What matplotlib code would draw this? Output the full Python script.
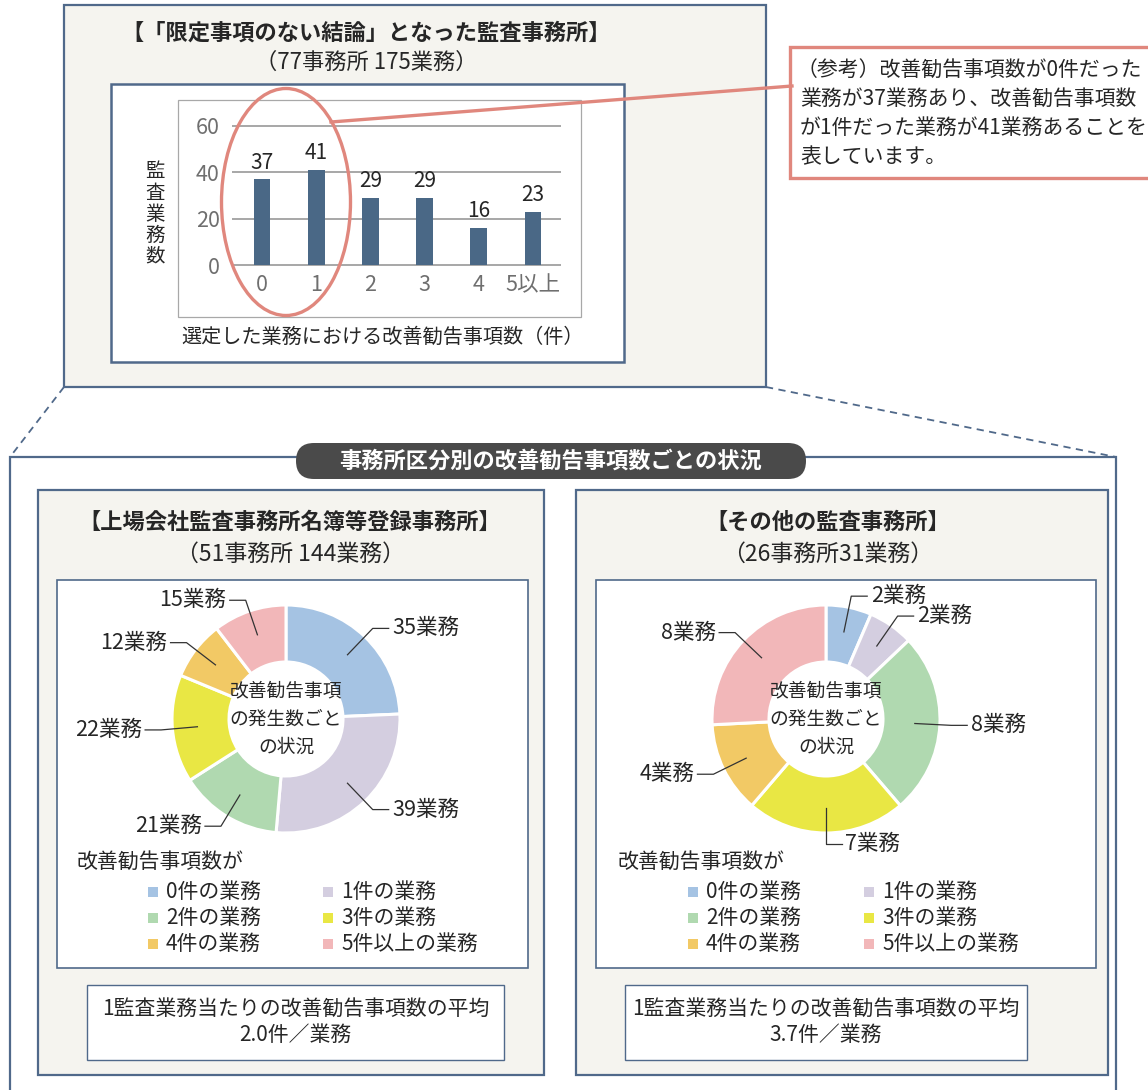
import matplotlib
matplotlib.use('Agg')
import matplotlib.pyplot as plt
from matplotlib.patches import Rectangle, Ellipse, FancyBboxPatch
import numpy as np

plt.rcParams['font.family'] = ['Noto Sans CJK JP', 'DejaVu Sans']

# ---------------- data ----------------
bar_categories = ['0', '1', '2', '3', '4', '5以上']
bar_values = [37, 41, 29, 29, 16, 23]
y_ticks = [0, 20, 40, 60]

listed_values = [35, 39, 21, 22, 12, 15]
other_values = [2, 2, 8, 7, 4, 8]
legend_labels = ['0件の業務', '1件の業務', '2件の業務', '3件の業務', '4件の業務', '5件以上の業務']
slice_colors = ['#A5C3E3', '#D4CEE0', '#B0D9B0', '#E9E744', '#F2C965', '#F2B7B9']
avg_listed = '2.0件／業務'
avg_other = '3.7件／業務'

note_lines = ['（参考）改善勧告事項数が0件だった',
              '業務が37業務あり、改善勧告事項数',
              'が1件だった業務が41業務あることを',
              '表しています。']

BORDER = '#50698A'
PANEL = '#F5F4EF'
TXT = '#262626'
RED = '#E0877D'

W, H = 1148, 1090
fig = plt.figure(figsize=(W / 100, H / 100), dpi=100)
base = fig.add_axes([0, 0, 1, 1])
base.set_xlim(0, W)
base.set_ylim(H, 0)
base.axis('off')


def px_axes(x0, y0, x1, y1):
    return fig.add_axes([x0 / W, 1 - y1 / H, (x1 - x0) / W, (y1 - y0) / H])


def rect(ax, x0, y0, x1, y1, fc, ec, lw, z=1):
    ax.add_patch(Rectangle((x0, y0), x1 - x0, y1 - y0, facecolor=fc, edgecolor=ec, linewidth=lw, zorder=z))


# ---------------- top section ----------------
rect(base, 64, 5, 766, 387, PANEL, BORDER, 1.6)
base.text(366, 33, '【「限定事項のない結論」となった監査事務所】', ha='center', va='center',
          fontsize=16, fontweight='bold', color=TXT)
base.text(366, 62, '（77事務所 175業務）', ha='center', va='center', fontsize=16, color=TXT)
rect(base, 111, 84, 624, 362, 'white', BORDER, 1.8)
rect(base, 178, 100, 581, 317, 'white', '#A8A8A8', 0.9)

# bar chart
pxu = 139 / 60.0
bax = px_axes(232, 126 - pxu, 561, 265 + pxu)
bax.set_facecolor('none')
bax.bar(range(len(bar_values)), bar_values, width=0.31, color='#4A6886', zorder=3)
bax.set_ylim(-1, 61)
bax.set_xlim(-0.553, 5.517)
for s in bax.spines.values():
    s.set_visible(False)
bax.set_yticks(y_ticks)
bax.set_xticks(range(len(bar_categories)))
bax.set_xticklabels(bar_categories)
bax.yaxis.grid(True, color='#A0A0A0', linewidth=1.3)
bax.set_axisbelow(True)
bax.tick_params(axis='y', length=0, labelsize=15.5, labelcolor='#6F6F6F', pad=9)
bax.tick_params(axis='x', length=0, labelsize=15.5, labelcolor='#6F6F6F', pad=5)
for c in bax.containers:
    bax.bar_label(c, padding=4, fontsize=15, color=TXT)

base.text(155, 214, '監\n査\n業\n務\n数', ha='center', va='center', fontsize=14,
          color=TXT, linespacing=1.0)
base.text(383, 337, '選定した業務における改善勧告事項数（件）', ha='center', va='center',
          fontsize=14.5, color=TXT)

# dashed connectors
base.plot([64, 10], [387, 457], color=BORDER, lw=1.3, ls=(0, (4, 3)))
base.plot([766, 1116], [387, 457], color=BORDER, lw=1.3, ls=(0, (4, 3)))

# ---------------- bottom section ----------------
rect(base, 10, 457, 1116, 1100, 'white', BORDER, 1.6)
base.add_patch(FancyBboxPatch((296, 443), 510, 36, boxstyle='round,pad=0,rounding_size=18',
                              facecolor='#4A4A4A', edgecolor='none', zorder=3))
base.text(551, 461, '事務所区分別の改善勧告事項数ごとの状況', ha='center', va='center',
          fontsize=16, fontweight='bold', color='white', zorder=4)


def donut(cx, cy, R, values):
    s = R * 1.6
    ax = px_axes(cx - s, cy - s, cx + s, cy + s)
    ax.pie(values, colors=slice_colors, startangle=90, counterclock=False, radius=1,
           wedgeprops=dict(width=0.5, edgecolor='white', linewidth=2.2))
    ax.set_xlim(-1.6, 1.6)
    ax.set_ylim(-1.6, 1.6)
    ax.axis('off')
    total = float(sum(values))
    cum = 0
    for v in values:
        th = np.deg2rad((cum + v / 2) / total * 360)
        cum += v
        dx, dy = np.sin(th), np.cos(th)
        p0 = (0.78 * dx, 0.78 * dy)
        p1 = (1.1 * dx, 1.1 * dy)
        side = 1 if dx >= -1e-9 else -1
        p2 = (p1[0] + side * 0.14, p1[1])
        ax.plot([p0[0], p1[0], p2[0]], [p0[1], p1[1], p2[1]], color='#333333', lw=0.9, clip_on=False)
        ax.text(p2[0] + side * 0.03, p2[1], f'{v}業務', ha='left' if side > 0 else 'right',
                va='center', fontsize=15.5, color=TXT, clip_on=False)
    for i, line in enumerate(['改善勧告事項', 'の発生数ごと', 'の状況']):
        ax.text(0, (1 - i) * 28.5 / R, line, ha='center', va='center', fontsize=13.5, color=TXT)


def panel(x0, x1, tcx, title, sub, wx0, wx1, dcx, values, leg_x, sq_x, avg_x0, avg_x1, avg_text):
    rect(base, x0, 490, x1, 1075, PANEL, BORDER, 1.6)
    base.text(tcx, 522, title, ha='center', va='center', fontsize=16, fontweight='bold', color=TXT)
    base.text(tcx, 554, sub, ha='center', va='center', fontsize=16.5, color=TXT)
    rect(base, wx0, 580, wx1, 968, 'white', BORDER, 1.2)
    donut(dcx, 719, 114, values)
    base.text(leg_x, 862, '改善勧告事項数が', ha='left', va='center', fontsize=15, color=TXT)
    rows = [892, 918, 944]
    for i, lab in enumerate(legend_labels):
        r, c = i // 2, i % 2
        base.add_patch(Rectangle((sq_x[c], rows[r] - 5), 10, 10, facecolor=slice_colors[i],
                                 edgecolor='none', zorder=3))
        base.text(sq_x[c] + 18, rows[r], lab, ha='left', va='center', fontsize=15, color=TXT)
    rect(base, avg_x0, 985, avg_x1, 1060, 'white', BORDER, 1.0)
    acx = (avg_x0 + avg_x1) / 2
    base.text(acx, 1009, '1監査業務当たりの改善勧告事項数の平均', ha='center', va='center',
              fontsize=15, color=TXT)
    base.text(acx, 1035, avg_text, ha='center', va='center', fontsize=15, color=TXT)


panel(38, 544, 290, '【上場会社監査事務所名簿等登録事務所】', '（51事務所 144業務）',
      57, 528, 286, listed_values, 77, [148, 323], 87, 504, avg_listed)
panel(576, 1108, 828, '【その他の監査事務所】', '（26事務所31業務）',
      596, 1096, 826, other_values, 618, [688, 864], 625, 1027, avg_other)

# ---------------- overlay (ellipse + note) ----------------
ov = fig.add_axes([0, 0, 1, 1])
ov.set_xlim(0, W)
ov.set_ylim(H, 0)
ov.axis('off')
ov.patch.set_alpha(0)
ov.add_patch(Ellipse((286, 202), 129, 227, facecolor='none', edgecolor=RED, linewidth=2.4))
ov.plot([331, 792], [122, 86], color=RED, lw=2.4)
rect(ov, 790, 47, 1160, 178, 'white', RED, 2.4)
for i, line in enumerate(note_lines):
    ov.text(800 if i else 797, 70 + i * 29, line, ha='left', va='center', fontsize=15, color=TXT)

fig.savefig('out.png', dpi=100, facecolor='white')
